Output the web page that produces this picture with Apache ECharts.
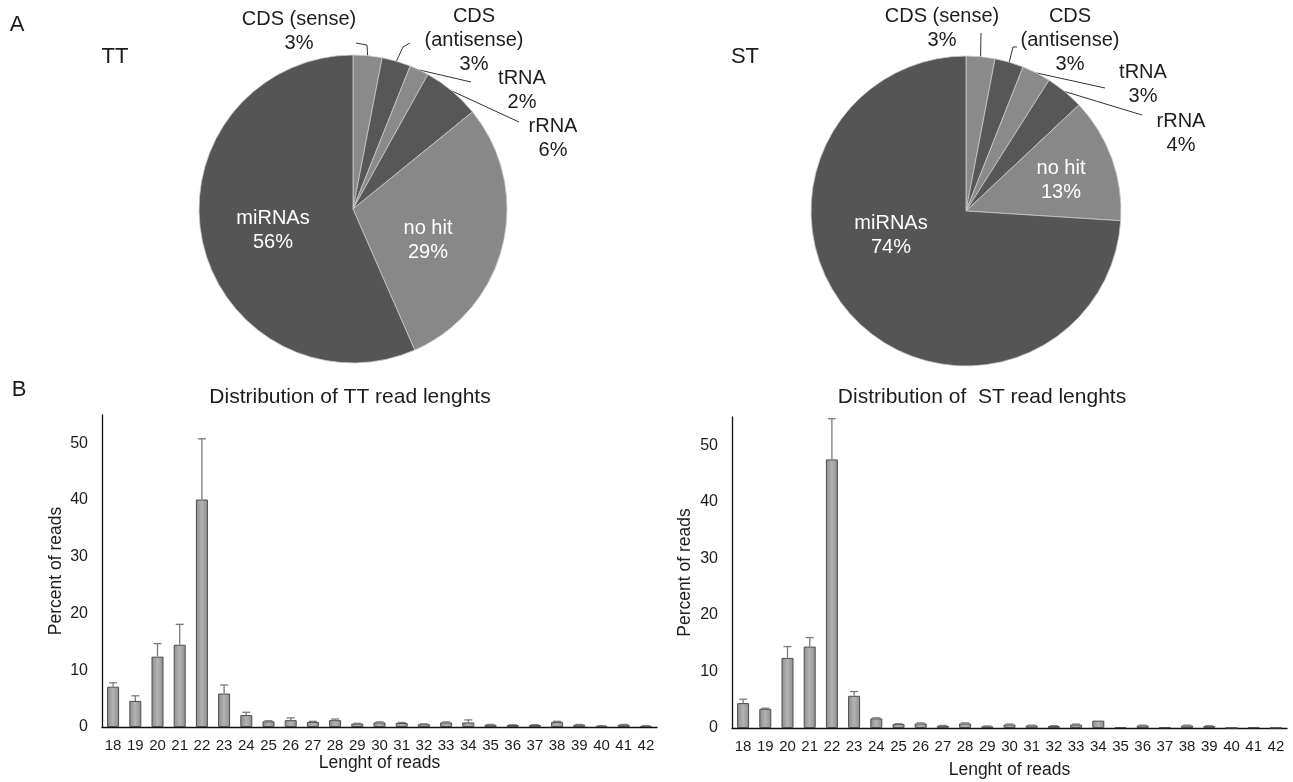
<!DOCTYPE html>
<html>
<head>
<meta charset="utf-8">
<script src="https://cdn.jsdelivr.net/npm/echarts@6/dist/echarts.min.js"></script>
<style>
  html, body { margin: 0; padding: 0; background: #ffffff; }
  #chart { width: 1293px; height: 782px; }
</style>
</head>
<body>
<div id="chart"></div>
<script>
// ---- Panel A: composition of the small RNA libraries (%) ----
const pieNames = ['CDS (sense)', 'CDS (antisense)', 'tRNA', 'rRNA', 'no hit', 'miRNAs'];
const ttShares = [3, 3, 2, 6, 29, 56];
const stShares = [3, 3, 3, 4, 13, 74];

// ---- Panel B: read-length distributions (% of reads, mean and upper error) ----
const readLengths = ['18', '19', '20', '21', '22', '23', '24', '25', '26', '27', '28', '29', '30',
                     '31', '32', '33', '34', '35', '36', '37', '38', '39', '40', '41', '42'];
const ttPercent = [7.1, 4.6, 12.4, 14.5, 40.1, 5.9, 2.1, 1.0, 1.2, 0.9, 1.2, 0.6, 0.8,
                   0.7, 0.5, 0.8, 0.8, 0.4, 0.35, 0.35, 0.9, 0.4, 0.2, 0.4, 0.2];
const ttError   = [0.7, 0.9, 2.3, 3.6, 10.7, 1.5, 0.5, 0.1, 0.4, 0.1, 0.2, 0.05, 0.1,
                   0.1, 0.05, 0.1, 0.45, 0.05, 0.05, 0.05, 0.1, 0.05, 0.03, 0.05, 0.03];
const stPercent = [4.4, 3.4, 12.4, 14.4, 47.5, 5.7, 1.7, 0.7, 0.8, 0.4, 0.8, 0.3, 0.6,
                   0.45, 0.35, 0.6, 1.3, 0.15, 0.45, 0.15, 0.45, 0.35, 0.05, 0.15, 0.05];
const stError   = [0.7, 0.1, 2.0, 1.6, 7.2, 0.75, 0.1, 0.05, 0.1, 0.05, 0.1, 0.05, 0.1,
                   0.05, 0.05, 0.1, 0, 0, 0.05, 0, 0.05, 0.05, 0, 0, 0];
const yMax = 55;
const yStep = 10;

// ---- styling ----
const FONT = '"Liberation Sans", Arial, Helvetica, sans-serif';
const INK = '#1c1c1c';
const sliceColors = ['#8a8a8a', '#575757', '#8a8a8a', '#575757', '#888888', '#555555'];
const insideNames = ['no hit', 'miRNAs'];

// label anchor and leader bends for each pie (leader starts on the slice edge)
const ttLabelLayout = {
  'CDS (sense)':     { at: [299, 31],  leader: [[367, 45], [356, 43]] },
  'CDS (antisense)': { at: [474, 40],  leader: [[403, 47], [410, 43]] },
  'tRNA':            { at: [522, 90],  leader: [[471, 82]] },
  'rRNA':            { at: [553, 138], leader: [[519, 122]] },
  'no hit':          { at: [428, 240] },
  'miRNAs':          { at: [273, 230] }
};
const stLabelLayout = {
  'CDS (sense)':     { at: [942, 28],  leader: [[981, 33]] },
  'CDS (antisense)': { at: [1070, 40], leader: [[1013, 47], [1017, 47]] },
  'tRNA':            { at: [1143, 84], leader: [[1105, 88]] },
  'rRNA':            { at: [1181, 133], leader: [[1142, 115]] },
  'no hit':          { at: [1061, 180] },
  'miRNAs':          { at: [891, 235] }
};

function pieLabelText(p) {
  const name = p.name === 'CDS (antisense)' ? 'CDS\n(antisense)' : p.name;
  return name + '\n' + p.value + '%';
}

function pieSeries(shares, center, radius, layout) {
  return {
    type: 'pie',
    center: center,
    radius: radius,
    startAngle: 90,
    clockwise: true,
    animation: false,
    silent: true,
    avoidLabelOverlap: false,
    itemStyle: { borderColor: '#c9c9c9', borderWidth: 0.8 },
    label: {
      show: true,
      position: 'outside',
      formatter: pieLabelText,
      fontFamily: FONT,
      fontSize: 20,
      lineHeight: 24,
      color: INK,
      overflow: 'none'
    },
    labelLine: { show: true, length: 8, length2: 8, lineStyle: { color: '#333333', width: 1 } },
    labelLayout: function (p) {
      const item = layout[pieNames[p.dataIndex]];
      const res = { x: item.at[0], y: item.at[1], align: 'center', verticalAlign: 'middle' };
      if (item.leader && p.labelLinePoints) {
        const pts = [p.labelLinePoints[0]].concat(item.leader);
        if (pts.length === 2) pts.push(pts[1]);
        res.labelLinePoints = pts;
      }
      return res;
    },
    data: pieNames.map(function (n, i) {
      const inside = insideNames.indexOf(n) >= 0;
      return {
        name: n,
        value: shares[i],
        itemStyle: { color: sliceColors[i] },
        label: inside ? { position: 'inside', color: '#ffffff' } : {},
        labelLine: inside ? { show: false } : {}
      };
    })
  };
}

const barFill = new echarts.graphic.LinearGradient(0, 0, 1, 0, [
  { offset: 0, color: '#8c8c8c' },
  { offset: 0.5, color: '#b3b3b3' },
  { offset: 1, color: '#8c8c8c' }
]);

function barSeries(idx, values) {
  return {
    type: 'bar',
    xAxisIndex: idx,
    yAxisIndex: idx,
    barWidth: 12,
    animation: false,
    silent: true,
    itemStyle: { color: barFill, borderColor: '#4d4d4d', borderWidth: 1 },
    data: values
  };
}

function errorSeries(idx, values, errors) {
  return {
    type: 'custom',
    xAxisIndex: idx,
    yAxisIndex: idx,
    z: 5,
    animation: false,
    silent: true,
    data: values.map(function (v, i) { return [i, v, v + errors[i], errors[i]]; }),
    renderItem: function (params, api) {
      if (api.value(3) <= 0) return null;
      const x = api.value(0);
      const lo = api.coord([x, api.value(1)]);
      const hi = api.coord([x, api.value(2)]);
      const half = 4;
      const st = { stroke: '#7a7a7a', lineWidth: 1.3 };
      return {
        type: 'group',
        children: [
          { type: 'line', shape: { x1: lo[0], y1: lo[1], x2: hi[0], y2: hi[1] }, style: st },
          { type: 'line', shape: { x1: hi[0] - half, y1: hi[1], x2: hi[0] + half, y2: hi[1] }, style: st }
        ]
      };
    }
  };
}

function xAxisFor(idx, nameGap) {
  return {
    type: 'category',
    gridIndex: idx,
    data: readLengths,
    boundaryGap: true,
    name: 'Lenght of reads',
    nameLocation: 'middle',
    nameGap: nameGap,
    nameTextStyle: { fontFamily: FONT, fontSize: 17.5, color: INK },
    axisLine: { show: true, lineStyle: { color: '#111111', width: 1.3 } },
    axisTick: { show: false },
    axisLabel: { fontFamily: FONT, fontSize: 15, color: INK, margin: 11, interval: 0 },
    splitLine: { show: false }
  };
}

function yAxisFor(idx, nameGap) {
  return {
    type: 'value',
    gridIndex: idx,
    min: 0,
    max: yMax,
    interval: yStep,
    name: 'Percent of reads',
    nameLocation: 'middle',
    nameGap: nameGap,
    nameRotate: 90,
    nameTextStyle: { fontFamily: FONT, fontSize: 17.5, color: INK },
    axisLine: { show: true, lineStyle: { color: '#111111', width: 1.3 } },
    axisTick: { show: false },
    axisLabel: {
      fontFamily: FONT, fontSize: 16, color: INK, margin: 14,
      showMaxLabel: false,
      formatter: function (v) { return v % yStep === 0 ? String(v) : ''; }
    },
    splitLine: { show: false }
  };
}

function textEl(text, x, y, size) {
  return {
    type: 'text', x: x, y: y, silent: true,
    style: { text: text, fill: INK, font: size + 'px ' + FONT, align: 'center', verticalAlign: 'middle' }
  };
}

const chart = echarts.init(document.getElementById('chart'), null, { renderer: 'canvas' });
chart.setOption({
  backgroundColor: '#ffffff',
  animation: false,
  graphic: [
    textEl('A', 17, 25, 22),
    textEl('B', 19, 390, 22),
    textEl('TT', 115, 57, 22),
    textEl('ST', 745, 57, 22),
    textEl('Distribution of TT read lenghts', 350, 397, 21),
    textEl('Distribution of  ST read lenghts', 982, 397, 21)
  ],
  grid: [
    { left: 102, right: 636, top: 415, bottom: 55, containLabel: false },
    { left: 732, right: 6, top: 417, bottom: 54, containLabel: false }
  ],
  xAxis: [xAxisFor(0, 24), xAxisFor(1, 33)],
  yAxis: [yAxisFor(0, 37), yAxisFor(1, 38)],
  series: [
    pieSeries(ttShares, [353, 209], 154, ttLabelLayout),
    pieSeries(stShares, [966, 211], 155, stLabelLayout),
    barSeries(0, ttPercent),
    errorSeries(0, ttPercent, ttError),
    barSeries(1, stPercent),
    errorSeries(1, stPercent, stError)
  ]
});
</script>
</body>
</html>
